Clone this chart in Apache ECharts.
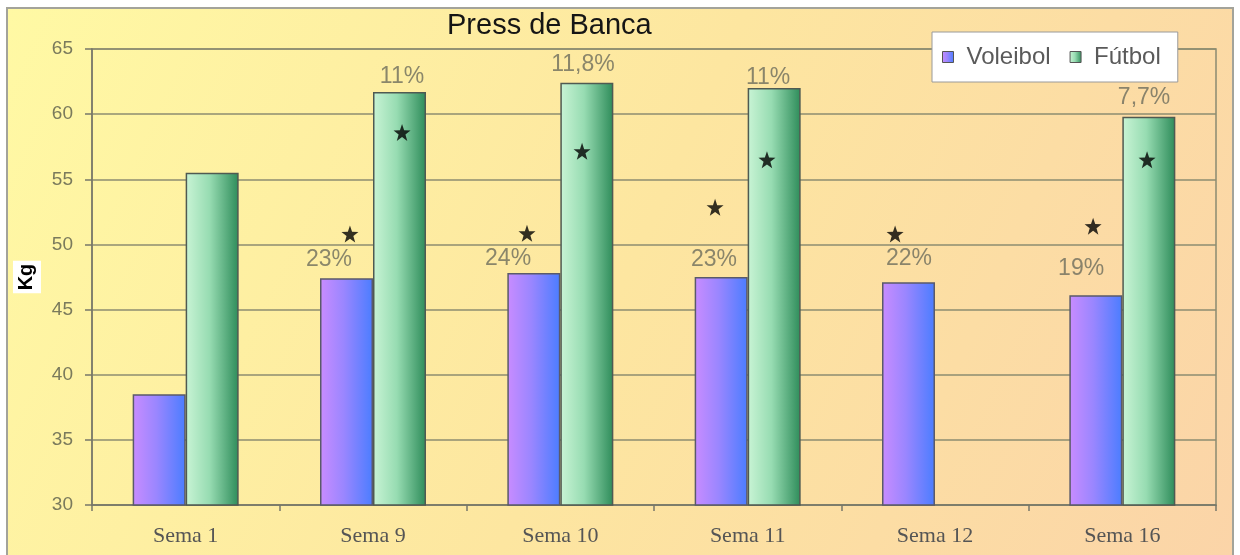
<!DOCTYPE html>
<html>
<head>
<meta charset="utf-8">
<script src="https://cdn.jsdelivr.net/npm/echarts@6/dist/echarts.min.js"></script>
<style>
html,body{margin:0;padding:0;background:#fff;}
#chart{width:1240px;height:555px;}
</style>
</head>
<body>
<div id="chart"></div>
<script>
// ---- data ----
const categories = ['Sema 1', 'Sema 9', 'Sema 10', 'Sema 11', 'Sema 12', 'Sema 16'];
const voleibol = [38.5, 47.4, 47.8, 47.5, 47.1, 46.1];
const futbol = [55.5, 61.7, 62.4, 62.0, null, 59.8];
const yMin = 30, yMax = 65, yStep = 5;

// significance stars: x in category units (0..6), y in kg
const starX = [1.377, 1.655, 2.322, 2.616, 3.326, 3.603, 4.287, 5.344, 5.632];
const starY = [50.8, 58.6, 50.85, 57.15, 52.85, 56.5, 50.8, 51.4, 56.5];

// percentage annotations
const pctText = ['23%', '11%', '24%', '11,8%', '23%', '11%', '22%', '19%', '7,7%'];
const pctX = [1.265, 1.655, 2.221, 2.621, 3.320, 3.609, 4.361, 5.280, 5.616];
const pctY = [48.85, 62.85, 48.9, 63.77, 48.85, 62.77, 48.9, 48.15, 61.3];

const starPath = 'path://M50 0 L61.76 33.82 L97.55 34.55 L69.02 56.18 L79.39 90.45 L50 70 L20.61 90.45 L30.98 56.18 L2.45 34.55 L38.24 33.82 Z';

const chart = echarts.init(document.getElementById('chart'), null, {renderer: 'canvas'});

const purpleGrad = new echarts.graphic.LinearGradient(0, 0, 1, 0, [
  {offset: 0, color: '#c98cff'},
  {offset: 0.45, color: '#9a86ff'},
  {offset: 1, color: '#4a7dff'}
]);
const greenGrad = new echarts.graphic.LinearGradient(0, 0, 1, 0, [
  {offset: 0, color: '#c9f4d5'},
  {offset: 0.45, color: '#97dcb2'},
  {offset: 1, color: '#2e8c5a'}
]);

const option = {
  animation: false,
  graphic: [{
    type: 'rect',
    z: -10,
    silent: true,
    shape: {x: 7, y: 8, width: 1226, height: 560},
    style: {
      fill: new echarts.graphic.LinearGradient(0, 0, 1, 1, [
        {offset: 0, color: '#fff9a4'},
        {offset: 0.5, color: '#fde6a0'},
        {offset: 1, color: '#fbd4a8'}
      ]),
      stroke: '#a3a39a',
      lineWidth: 2
    }
  }],
  title: {
    text: 'Press de Banca',
    left: 447,
    top: 11,
    padding: 0,
    textStyle: {fontFamily: 'Liberation Sans', fontSize: 29, fontWeight: 'normal', color: '#151515'}
  },
  legend: {
    left: 932,
    top: 32,
    padding: [13, 17, 13, 10],
    itemGap: 19,
    itemWidth: 11,
    itemHeight: 11,
    icon: 'rect',
    backgroundColor: '#ffffff',
    borderColor: '#9a9a9a',
    borderWidth: 1,
    data: ['Voleibol', 'Fútbol'],
    itemStyle: {borderColor: '#555', borderWidth: 1},
    textStyle: {fontFamily: 'Liberation Sans', fontSize: 24, color: '#5a5a5a', padding: [0, 0, 0, 8]}
  },
  grid: {
    left: 92, right: 24, top: 49, bottom: 50,
    containLabel: false,
    outerBoundsMode: 'none',
    show: true,
    backgroundColor: 'transparent',
    borderColor: '#8a8a72',
    borderWidth: 1.5
  },
  xAxis: [{
    type: 'category',
    data: categories,
    axisLine: {lineStyle: {color: '#77776a', width: 1.5}},
    axisTick: {show: true, length: 6, lineStyle: {color: '#77776a', width: 1.5}},
    axisLabel: {fontFamily: 'Liberation Serif', fontSize: 22, color: '#555', margin: 20}
  }, {
    type: 'value',
    min: 0,
    max: 6,
    show: false
  }],
  yAxis: {
    type: 'value',
    min: yMin,
    max: yMax,
    interval: yStep,
    name: 'Kg',
    nameLocation: 'middle',
    nameRotate: 90,
    nameGap: 49,
    nameTextStyle: {fontFamily: 'Liberation Sans', fontSize: 20, fontWeight: 'bold', color: '#000',
      backgroundColor: '#ffffff', padding: [4, 3, 4, 3]},
    axisLine: {show: true, lineStyle: {color: '#77776a', width: 1.5}},
    axisTick: {show: true, length: 7, lineStyle: {color: '#77776a', width: 1.5}},
    axisLabel: {fontFamily: 'Liberation Sans', fontSize: 19, color: '#7a7a5c', margin: 19},
    splitLine: {lineStyle: {color: '#8c8c70', width: 1.5}}
  },
  series: [{
    name: 'Voleibol',
    type: 'bar',
    data: voleibol,
    barWidth: 53,
    barGap: '0%',
    itemStyle: {color: purpleGrad, borderColor: '#5a5a6a', borderWidth: 1.5}
  }, {
    name: 'Fútbol',
    type: 'bar',
    data: futbol,
    barWidth: 53,
    barGap: '0%',
    itemStyle: {color: greenGrad, borderColor: '#4f5a52', borderWidth: 1.5}
  }, {
    name: 'stars',
    type: 'scatter',
    xAxisIndex: 1,
    symbol: starPath,
    symbolSize: 17,
    itemStyle: {color: '#000'},
    data: starX.map((x, i) => [x, starY[i]]),
    z: 5
  }, {
    name: 'pct',
    type: 'scatter',
    xAxisIndex: 1,
    symbolSize: 1,
    itemStyle: {color: 'rgba(0,0,0,0)'},
    data: pctX.map((x, i) => ({value: [x, pctY[i]], name: pctText[i]})),
    label: {
      show: true,
      position: 'inside',
      formatter: p => p.name,
      fontFamily: 'Liberation Sans',
      fontSize: 23,
      color: '#6d6d5c'
    },
    z: 6
  }]
};
chart.setOption(option);
</script>
</body>
</html>
